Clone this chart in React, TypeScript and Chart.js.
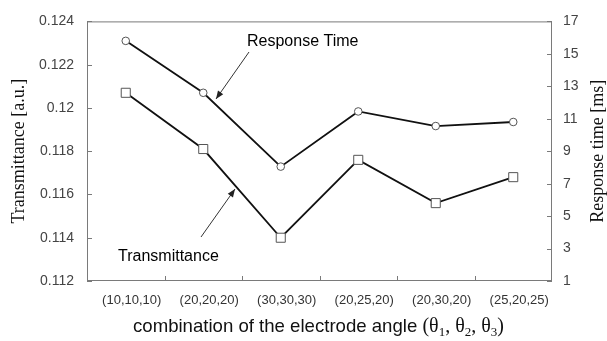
import React, { useEffect, useRef } from "react";
import { Chart, registerables } from "chart.js";

Chart.register(...registerables);

const categories = ["(10,10,10)", "(20,20,20)", "(30,30,30)", "(20,25,20)", "(20,30,20)", "(25,20,25)"];
const transmittance = [0.1207, 0.1181, 0.114, 0.1176, 0.1156, 0.1168];
const responseTime = [15.8, 12.6, 8.05, 11.45, 10.55, 10.8];
const leftTicks = [0.112, 0.114, 0.116, 0.118, 0.12, 0.122, 0.124];
const rightTicks = [1, 3, 5, 7, 9, 11, 13, 15, 17];
const leftTitle = "Transmittance [a.u.]";
const rightTitle = "Response time [ms]";
const xTitleMain = "combination of the electrode angle ";
const rtLabel = "Response Time";
const trLabel = "Transmittance";

const SANS = "'Liberation Sans', Arial, sans-serif";
const SERIF = "'Liberation Serif', 'Times New Roman', serif";
const AXIS_GRAY = "#7a7a7a";

function arrow(ctx: CanvasRenderingContext2D, x1: number, y1: number, x2: number, y2: number) {
  ctx.save();
  ctx.strokeStyle = "#333";
  ctx.fillStyle = "#222";
  ctx.lineWidth = 1;
  ctx.beginPath();
  ctx.moveTo(x1, y1);
  ctx.lineTo(x2, y2);
  ctx.stroke();
  const a = Math.atan2(y2 - y1, x2 - x1);
  const L = 8, W = 3.2;
  ctx.beginPath();
  ctx.moveTo(x2, y2);
  ctx.lineTo(x2 - L * Math.cos(a) + W * Math.sin(a), y2 - L * Math.sin(a) - W * Math.cos(a));
  ctx.lineTo(x2 - L * Math.cos(a) - W * Math.sin(a), y2 - L * Math.sin(a) + W * Math.cos(a));
  ctx.closePath();
  ctx.fill();
  ctx.restore();
}

const framePlugin = {
  id: "frame",
  beforeDatasetsDraw(chart: any) {
    const { ctx, chartArea: ca, scales } = chart;
    ctx.save();
    ctx.strokeStyle = AXIS_GRAY;
    ctx.lineWidth = 1;
    ctx.strokeRect(ca.left + 0.5, ca.top + 0.5, ca.right - ca.left - 1, ca.bottom - ca.top - 1);
    ctx.beginPath();
    leftTicks.forEach((v) => {
      const y = Math.round(scales.y.getPixelForValue(v)) + 0.5;
      ctx.moveTo(ca.left, y);
      ctx.lineTo(ca.left + 5, y);
    });
    rightTicks.forEach((v) => {
      const y = Math.round(scales.y1.getPixelForValue(v)) + 0.5;
      ctx.moveTo(ca.right, y);
      ctx.lineTo(ca.right - 5, y);
    });
    for (let i = 1; i < categories.length; i++) {
      const x = Math.round(scales.x.getPixelForValue(i - 0.5)) + 0.5;
      ctx.moveTo(x, ca.bottom);
      ctx.lineTo(x, ca.bottom - 5);
    }
    ctx.stroke();
    ctx.restore();
  },
  afterDraw(chart: any) {
    const { ctx, chartArea: ca } = chart;
    ctx.save();
    ctx.fillStyle = "#111";
    // left title
    ctx.font = `18px ${SERIF}`;
    ctx.textAlign = "center";
    ctx.textBaseline = "middle";
    ctx.save();
    ctx.translate(19, (ca.top + ca.bottom) / 2);
    ctx.rotate(-Math.PI / 2);
    ctx.fillText(leftTitle, 0, 0);
    ctx.restore();
    // right title
    ctx.save();
    ctx.translate(598, (ca.top + ca.bottom) / 2);
    ctx.rotate(-Math.PI / 2);
    ctx.fillText(rightTitle, 0, 0);
    ctx.restore();

    // x title with subscripts
    const base = 332;
    const parts: { t: string; font: string; dy: number }[] = [
      { t: xTitleMain, font: `18.6px ${SANS}`, dy: 0 },
      { t: "(θ", font: `20px ${SERIF}`, dy: 0 },
      { t: "1", font: `13px ${SERIF}`, dy: 4 },
      { t: ", θ", font: `20px ${SERIF}`, dy: 0 },
      { t: "2", font: `13px ${SERIF}`, dy: 4 },
      { t: ", θ", font: `20px ${SERIF}`, dy: 0 },
      { t: "3", font: `13px ${SERIF}`, dy: 4 },
      { t: ")", font: `20px ${SERIF}`, dy: 0 },
    ];
    let total = 0;
    parts.forEach((p) => {
      ctx.font = p.font;
      total += ctx.measureText(p.t).width;
    });
    let x = (ca.left + ca.right) / 2 - 1 - total / 2;
    ctx.textAlign = "left";
    ctx.textBaseline = "alphabetic";
    parts.forEach((p) => {
      ctx.font = p.font;
      ctx.fillText(p.t, x, base + p.dy);
      x += ctx.measureText(p.t).width;
    });

    // annotations
    ctx.fillStyle = "#000";
    ctx.font = `16px ${SANS}`;
    ctx.textAlign = "left";
    ctx.textBaseline = "alphabetic";
    ctx.fillText(rtLabel, 247, 45.5);
    ctx.fillText(trLabel, 118, 260.5);
    ctx.restore();
    arrow(ctx, 249, 52, 216, 99);
    arrow(ctx, 201, 237, 235, 189);
  },
};

export default function App() {
  const ref = useRef<HTMLCanvasElement | null>(null);
  useEffect(() => {
    document.body.style.margin = "0";
    const canvas = ref.current!;
    const chart = new Chart(canvas, {
      type: "line",
      data: {
        labels: categories,
        datasets: [
          {
            label: "Transmittance",
            data: transmittance,
            yAxisID: "y",
            borderColor: "#111",
            borderWidth: 1.8,
            pointStyle: "rect",
            pointRadius: 6.4,
            pointBackgroundColor: "#fff",
            pointBorderColor: "#555",
            pointBorderWidth: 1,
            tension: 0,
          },
          {
            label: "Response Time",
            data: responseTime,
            yAxisID: "y1",
            borderColor: "#111",
            borderWidth: 1.8,
            pointStyle: "circle",
            pointRadius: 3.8,
            pointBackgroundColor: "#fff",
            pointBorderColor: "#555",
            pointBorderWidth: 1,
            tension: 0,
          },
        ],
      },
      options: {
        animation: false,
        responsive: false,
        layout: { padding: { top: 16, left: 0, right: 0, bottom: 0 } },
        plugins: { legend: { display: false }, tooltip: { enabled: false } },
        scales: {
          x: {
            type: "category",
            offset: true,
            grid: { display: false, drawTicks: false },
            border: { display: false },
            ticks: { color: "#333", font: { family: SANS, size: 13 }, padding: 12, labelOffset: 6, maxRotation: 0, autoSkip: false },
            afterFit: (s: any) => { s.height = 60; },
          },
          y: {
            position: "left",
            min: 0.112,
            max: 0.124,
            grid: { display: false, drawTicks: false },
            border: { display: false },
            ticks: {
              stepSize: 0.002,
              color: "#444",
              font: { family: SANS, size: 14 },
              padding: 13,
              callback: (v: any) => String(Number(Number(v).toFixed(3))),
            },
            afterFit: (s: any) => { s.width = 87; },
          },
          y1: {
            position: "right",
            min: 1,
            max: 17,
            grid: { display: false, drawTicks: false },
            border: { display: false },
            ticks: { stepSize: 2, color: "#444", font: { family: SANS, size: 14 }, padding: 11 },
            afterFit: (s: any) => { s.width = 55; },
          },
        },
      },
      plugins: [framePlugin],
    });
    return () => chart.destroy();
  }, []);
  return (
    <div style={{ width: 607, height: 341, background: "#fff" }}>
      <canvas ref={ref} width={607} height={341} style={{ display: "block" }} />
    </div>
  );
}
